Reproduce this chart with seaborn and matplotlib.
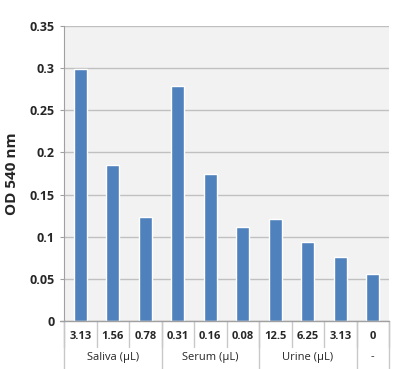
import matplotlib
matplotlib.use("Agg")
import matplotlib.pyplot as plt
import seaborn as sns
import pandas as pd

# values
conc_labels = ["3.13", "1.56", "0.78", "0.31", "0.16", "0.08", "12.5", "6.25", "3.13", "0"]
group_labels = ["Saliva (\u00b5L)", "Serum (\u00b5L)", "Urine (\u00b5L)", "-"]
group_sizes = [3, 3, 3, 1]
od_values = [0.299, 0.185, 0.123, 0.279, 0.174, 0.111, 0.121, 0.094, 0.076, 0.056]

sns.set_style("white")
plt.rcParams["font.family"] = ["Open Sans", "DejaVu Sans"]

df = pd.DataFrame({"pos": range(len(od_values)), "od": od_values})

fig = plt.figure(figsize=(4.0, 3.69), dpi=100)
ax = fig.add_axes([0.16, 0.13, 0.8125, 0.7995])
ax.set_facecolor("#f2f2f2")

sns.barplot(data=df, x="pos", y="od", color="#4f81bd", saturation=1,
            width=0.4, ax=ax, zorder=3)

ax.set_ylim(0, 0.35)
ax.set_xlim(-0.5, len(od_values) - 0.5)
ax.set_yticks([0, 0.05, 0.1, 0.15, 0.2, 0.25, 0.3, 0.35])
ax.set_yticklabels(["0", "0.05", "0.1", "0.15", "0.2", "0.25", "0.3", "0.35"],
                   fontsize=9, fontweight="bold")
ax.yaxis.grid(True, color="#c0c0c0", linewidth=1, zorder=0)
ax.set_axisbelow(True)
ax.tick_params(axis="y", length=3, color="#a0a0a0", pad=4, left=True)

ax.set_xticks(range(len(conc_labels)))
ax.set_xticklabels(conc_labels, fontsize=8, fontweight="bold")
ax.tick_params(axis="x", length=0, pad=7)
ax.set_xlabel("")
ax.set_ylabel("OD 540 nm", fontsize=11, fontweight="bold", labelpad=7)

for side in ["top", "right", "bottom"]:
    ax.spines[side].set_visible(False)
ax.spines["left"].set_color("#a0a0a0")
ax.axhline(0, color="#a0a0a0", linewidth=1, zorder=4, xmin=-0.012, clip_on=False)

# category table below the axis
trans = ax.get_xaxis_transform()
sep_color = "#c8c8c8"
for i in range(len(conc_labels) + 1):
    ax.plot([i - 0.5, i - 0.5], [0, -0.088], transform=trans,
            color=sep_color, linewidth=1, clip_on=False)

start = 0
for name, size in zip(group_labels, group_sizes):
    ax.plot([start - 0.5, start - 0.5], [0, -0.165], transform=trans,
            color=sep_color, linewidth=1, clip_on=False)
    ax.text(start + (size - 1) / 2, -0.122, name, transform=trans,
            ha="center", va="center", fontsize=8)
    start += size
ax.plot([start - 0.5, start - 0.5], [0, -0.165], transform=trans,
        color=sep_color, linewidth=1, clip_on=False)

fig.savefig("out.png", dpi=100)
